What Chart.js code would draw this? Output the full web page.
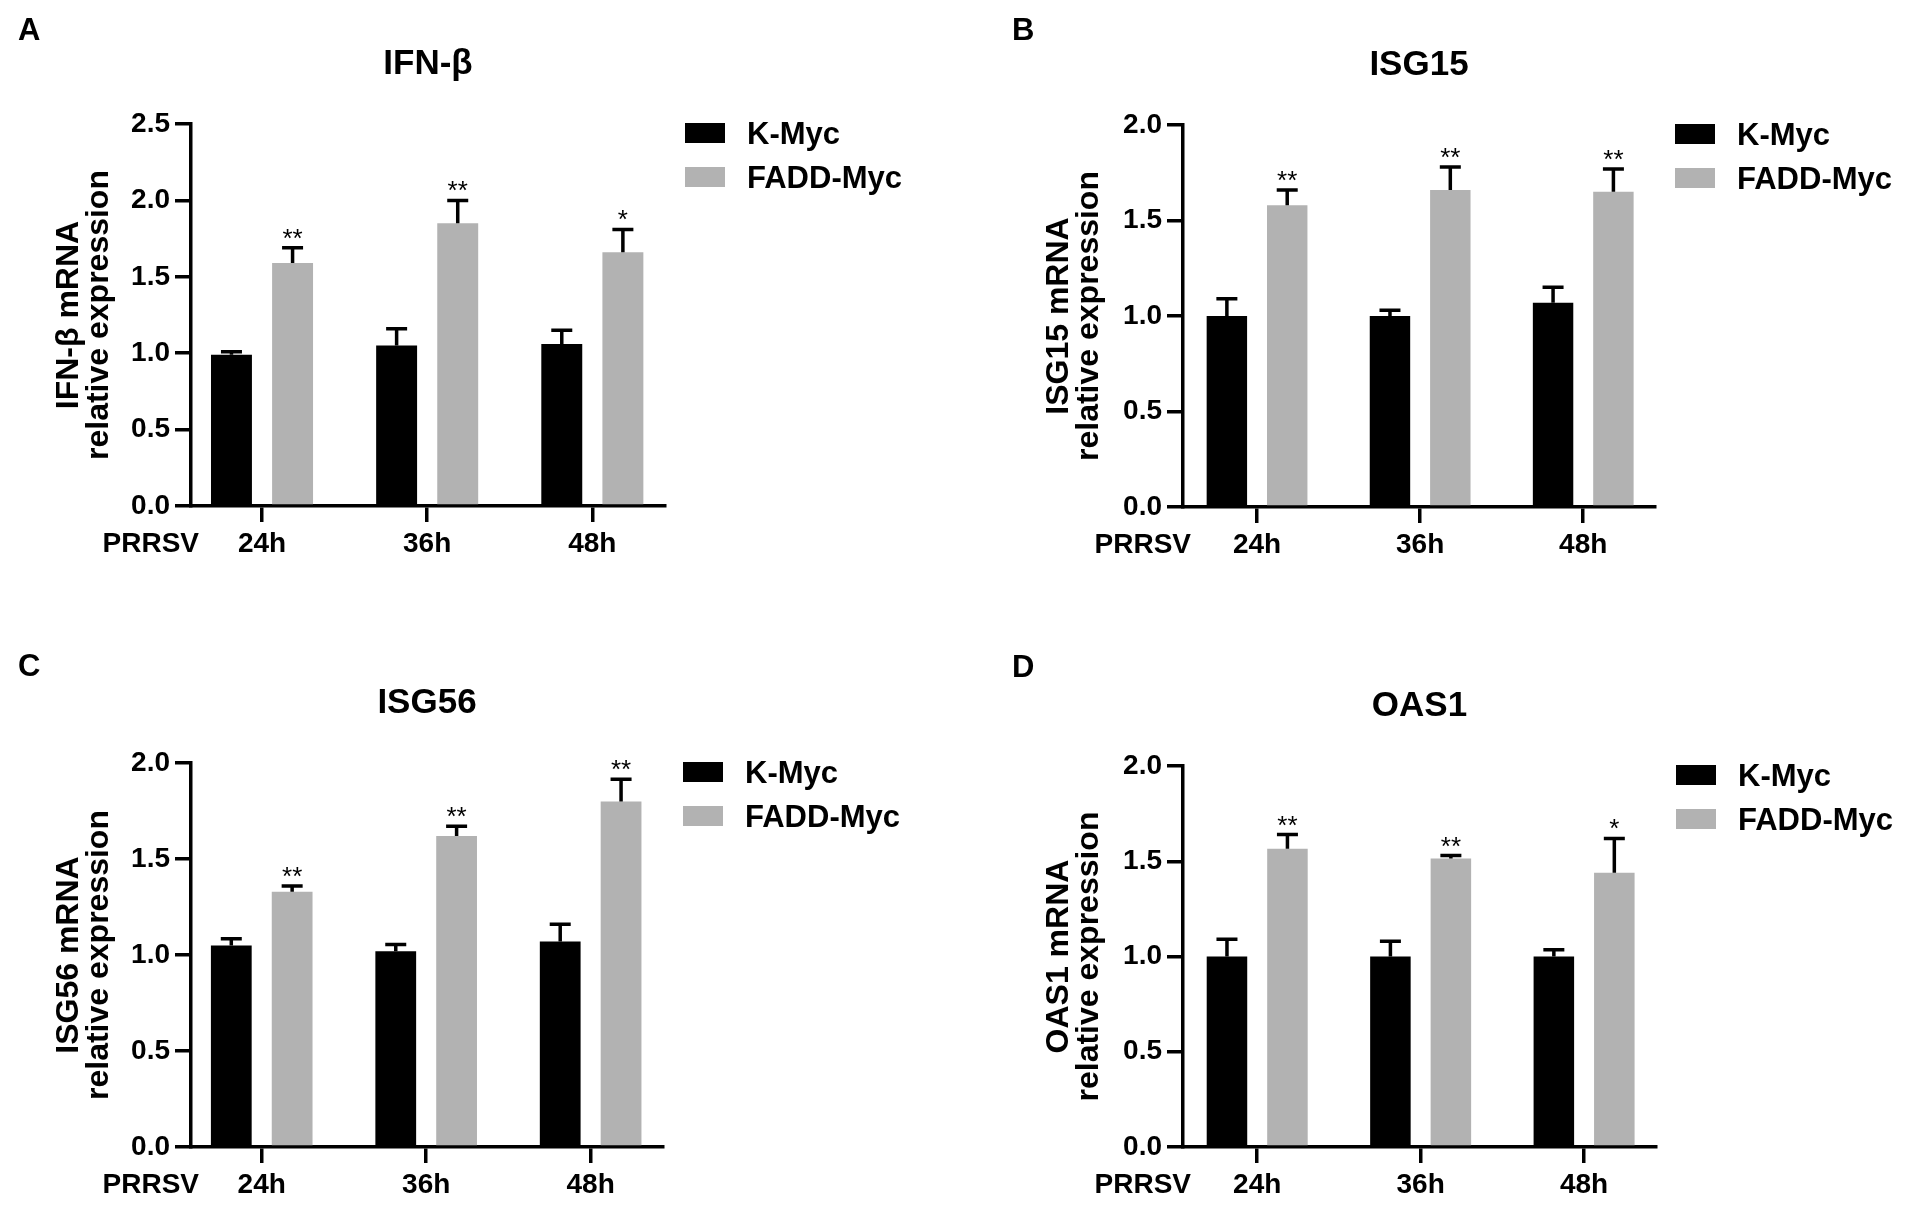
<!DOCTYPE html>
<html>
<head>
<meta charset="utf-8">
<title>PRRSV - FADD-Myc</title>
<script src="https://cdn.jsdelivr.net/npm/chart.js@4.4.1/dist/chart.umd.min.js"></script>
<style>
  html, body { margin: 0; padding: 0; background: #fff; }
  #fig { position: relative; width: 1910px; height: 1210px; }
  .panel { position: absolute; width: 955px; height: 605px; }
</style>
</head>
<body>
<div id="fig">
  <div class="panel" style="left:0;top:0"><canvas id="chartA" width="955" height="605"></canvas></div>
  <div class="panel" style="left:955px;top:0"><canvas id="chartB" width="955" height="605"></canvas></div>
  <div class="panel" style="left:0;top:605px"><canvas id="chartC" width="955" height="605"></canvas></div>
  <div class="panel" style="left:955px;top:605px"><canvas id="chartD" width="955" height="605"></canvas></div>
</div>
<script>
// categories and series
const categories = ['24h', '36h', '48h'];
const seriesNames = ['K-Myc', 'FADD-Myc'];
const xPrefix = 'PRRSV';

// y tick values
const ticksTo25 = [0, 0.5, 1.0, 1.5, 2.0, 2.5];
const ticksTo20 = [0, 0.5, 1.0, 1.5, 2.0];

// A - IFN-β (mean, SEM)
const ifnK = [0.99, 1.05, 1.06];
const ifnKErr = [0.02, 0.11, 0.09];
const ifnF = [1.59, 1.85, 1.66];
const ifnFErr = [0.10, 0.15, 0.15];
const ifnStars = ['**', '**', '*'];

// B - ISG15
const isg15K = [1.00, 1.00, 1.07];
const isg15KErr = [0.09, 0.03, 0.08];
const isg15F = [1.58, 1.66, 1.65];
const isg15FErr = [0.08, 0.12, 0.12];
const isg15Stars = ['**', '**', '**'];

// C - ISG56
const isg56K = [1.05, 1.02, 1.07];
const isg56KErr = [0.035, 0.035, 0.09];
const isg56F = [1.33, 1.62, 1.80];
const isg56FErr = [0.03, 0.05, 0.115];
const isg56Stars = ['**', '**', '**'];

// D - OAS1
const oasK = [1.00, 1.00, 1.00];
const oasKErr = [0.09, 0.08, 0.035];
const oasF = [1.565, 1.515, 1.44];
const oasFErr = [0.075, 0.015, 0.18];
const oasStars = ['**', '**', '*'];

const FONT = "'Liberation Sans', Arial, Helvetica, sans-serif";
const BLACK = '#000000';
const GREY = '#b2b2b2';
Chart.defaults.font.family = FONT;
Chart.defaults.color = BLACK;

// panel layout (canvas-relative chart area, letter spot)
const panels = [
  { id: 'chartA', letter: 'A', title: 'IFN-β', yTitle: ['IFN-β mRNA', 'relative expression'],
    k: ifnK, kErr: ifnKErr, f: ifnF, fErr: ifnFErr, stars: ifnStars, yTicks: ticksTo25,
    area: { left: 191, top: 124, right: 665, bottom: 506 }, xMin: 0.57, titlePad: 54, letterAt: [18, 31] },
  { id: 'chartB', letter: 'B', title: 'ISG15', yTitle: ['ISG15 mRNA', 'relative expression'],
    k: isg15K, kErr: isg15KErr, f: isg15F, fErr: isg15FErr, stars: isg15Stars, yTicks: ticksTo20,
    area: { left: 228, top: 125, right: 700, bottom: 507 }, xMin: 0.546, titlePad: 89, letterAt: [57, 31] },
  { id: 'chartC', letter: 'C', title: 'ISG56', yTitle: ['ISG56 mRNA', 'relative expression'],
    k: isg56K, kErr: isg56KErr, f: isg56F, fErr: isg56FErr, stars: isg56Stars, yTicks: ticksTo20,
    area: { left: 191, top: 158, right: 663, bottom: 542 }, xMin: 0.57, titlePad: 54, letterAt: [18, 62] },
  { id: 'chartD', letter: 'D', title: 'OAS1', yTitle: ['OAS1 mRNA', 'relative expression'],
    k: oasK, kErr: oasKErr, f: oasF, fErr: oasFErr, stars: oasStars, yTicks: ticksTo20,
    area: { left: 228, top: 161, right: 701, bottom: 542 }, xMin: 0.546, titlePad: 89, letterAt: [57, 63] }
];

// error bars, stars, legend, panel letter, PRRSV label
const figurePlugin = {
  id: 'figure',
  afterDatasetsDraw(chart) {
    const ctx = chart.ctx;
    const ys = chart.scales.y;
    ctx.save();
    ctx.strokeStyle = BLACK;
    ctx.lineWidth = 3.5;
    chart.data.datasets.forEach((ds, d) => {
      chart.getDatasetMeta(d).data.forEach((bar, i) => {
        const top = ys.getPixelForValue(ds.data[i].y + ds.err[i]);
        ctx.beginPath();
        ctx.moveTo(bar.x, bar.y);
        ctx.lineTo(bar.x, top);
        ctx.moveTo(bar.x - 10.5, top);
        ctx.lineTo(bar.x + 10.5, top);
        ctx.stroke();
        if (ds.stars && ds.stars[i]) {
          ctx.fillStyle = BLACK;
          ctx.font = '26px ' + FONT;
          ctx.textAlign = 'center';
          ctx.textBaseline = 'alphabetic';
          ctx.fillText(ds.stars[i], bar.x, top - 1);
        }
      });
    });
    ctx.restore();
  },
  afterDraw(chart, args, opts) {
    const ctx = chart.ctx;
    const { top, right, left } = chart.chartArea;
    ctx.save();
    // legend
    chart.data.datasets.forEach((ds, i) => {
      const bx = right + 20, by = top - 1 + i * 44;
      ctx.fillStyle = ds.backgroundColor;
      ctx.fillRect(bx, by, 40, 20);
      ctx.fillStyle = BLACK;
      ctx.font = 'bold 31px ' + FONT;
      ctx.textAlign = 'left';
      ctx.textBaseline = 'middle';
      ctx.fillText(ds.label, bx + 62, by + 12);
    });
    // panel letter
    ctx.font = 'bold 31px ' + FONT;
    ctx.textAlign = 'left';
    ctx.textBaseline = 'middle';
    ctx.fillText(opts.letter, opts.letterAt[0], opts.letterAt[1]);
    // PRRSV prefix on the x label row
    const xs = chart.scales.x;
    const item = xs.getLabelItems()[0];
    ctx.font = 'bold 28px ' + FONT;
    ctx.textAlign = 'right';
    ctx.textBaseline = item.options.textBaseline;
    ctx.fillText(xPrefix, left + 8, item.options.translation[1] + item.textOffset);
    ctx.restore();
  }
};

panels.forEach(p => {
  const a = p.area;
  new Chart(document.getElementById(p.id), {
    type: 'bar',
    data: {
      datasets: [
        { label: seriesNames[0], data: p.k.map((v, i) => ({ x: i + 1, y: v })), err: p.kErr,
          backgroundColor: BLACK, categoryPercentage: 0.74, barPercentage: 0.67 },
        { label: seriesNames[1], data: p.f.map((v, i) => ({ x: i + 1, y: v })), err: p.fErr, stars: p.stars,
          backgroundColor: GREY, categoryPercentage: 0.74, barPercentage: 0.67 }
      ]
    },
    options: {
      responsive: false,
      animation: false,
      devicePixelRatio: 1,
      layout: { padding: { left: 0, top: 0, right: 955 - a.right, bottom: 0 } },
      plugins: {
        legend: { display: false },
        tooltip: { enabled: false },
        title: {
          display: true, text: p.title, fullSize: false, color: BLACK,
          font: { size: 35, weight: 'bold', lineHeight: 40 / 35 },
          padding: { top: a.top - 80, bottom: 40 }
        },
        figure: { letter: p.letter, letterAt: p.letterAt }
      },
      scales: {
        x: {
          type: 'linear', min: p.xMin, max: 3.44, offset: false,
          afterBuildTicks: s => { s.ticks = categories.map((c, i) => ({ value: i + 1 })); },
          afterFit: s => { s.height = 605 - a.bottom; },
          ticks: {
            callback: v => categories[Math.round(v) - 1] || '',
            autoSkip: false, maxRotation: 0, padding: 5, color: BLACK,
            font: { size: 28, weight: 'bold' }
          },
          grid: { offset: false, drawOnChartArea: false, tickLength: 16, lineWidth: 3.5, color: BLACK },
          border: { width: 3.5, color: BLACK }
        },
        y: {
          min: 0, max: p.yTicks[p.yTicks.length - 1],
          afterBuildTicks: s => { s.ticks = p.yTicks.map(v => ({ value: v })); },
          afterFit: s => { s.width = a.left; },
          ticks: {
            callback: v => v.toFixed(1), padding: 5, color: BLACK,
            font: { size: 28, weight: 'bold' }
          },
          grid: { drawOnChartArea: false, tickLength: 16, lineWidth: 3.5, color: BLACK },
          border: { width: 3.5, color: BLACK },
          title: {
            display: true, text: p.yTitle, color: BLACK,
            font: { size: 32, weight: 'bold', lineHeight: 30 / 32 },
            padding: { top: p.titlePad, bottom: 0 }
          }
        }
      }
    },
    plugins: [figurePlugin]
  });
});
</script>
</body>
</html>
